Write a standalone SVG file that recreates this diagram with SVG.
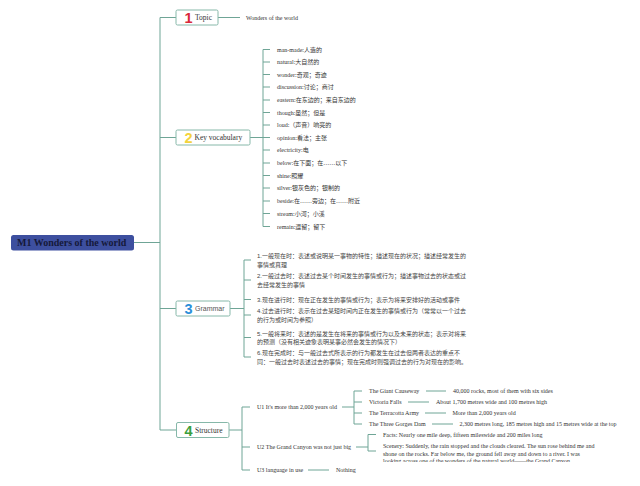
<svg xmlns="http://www.w3.org/2000/svg" width="640" height="486" viewBox="0 0 640 486">
<style>
.ln{fill:none;stroke:#6fa596;stroke-width:1}
.box{fill:#fff;stroke:#86b8a9;stroke-width:1}
.lbl{font-family:"Liberation Serif","Noto Sans CJK SC",serif;font-size:7.5px;fill:#333}
.num{font-family:"Liberation Sans",sans-serif;font-size:14.5px;font-weight:bold;text-anchor:middle}
.t{font-family:"Liberation Serif","Noto Sans CJK SC",serif;font-size:6px;fill:#333}
.g{font-family:"Liberation Sans","Noto Sans CJK SC",sans-serif;font-size:6px;fill:#444}
</style>
<defs>
<clipPath id="clipS"><rect x="378" y="436" width="262" height="26"/></clipPath>
</defs>
<rect width="640" height="486" fill="#fff"/>
<g id="connectors">
<path class="ln" d="M134,242.5H160M176,17.5H160V430H176.5M160,137.5H176M160,308.5H176"/>
<path class="ln" d="M218,17.5H240"/>
<path class="ln" d="M250,137.5H263M270,49.5H263V226.5H270M263,62H270M263,74.5H270M263,87H270M263,100H270M263,112.5H270M263,125H270M263,137.5H270M263,150H270M263,163H270M263,175.5H270M263,188H270M263,201H270M263,213.5H270"/>
<path class="ln" d="M230,308.5H244M251,260H244V357H251M244,280H251M244,299.5H251M244,315H251M244,337.5H251"/>
<path class="ln" d="M229,430H242M250,407H242V470H250M242,447H250"/>
<path class="ln" d="M342,407H354M362,391H354V424H362M354,402H362M354,413H362"/>
<path class="ln" d="M426,391H446M408,402H429M425,413H446M432,424H453"/>
<path class="ln" d="M356,447H368M376,434.5H368V451H376"/>
<path class="ln" d="M308,470H329"/>
</g>
<g id="root">
<rect x="11" y="235" width="123" height="15.5" rx="2.5" fill="#3d4f9f"/>
<text x="17" y="246.3" font-family="Liberation Serif,serif" font-size="10" font-weight="bold" fill="#15193a">M1 Wonders of the world</text>
</g>
<g id="topic">
<rect class="box" x="176" y="10" width="42" height="15" rx="1.5"/>
<text class="num" x="188.5" y="23" fill="#d9283a">1</text>
<text class="lbl" x="195" y="20">Topic</text>
</g>
<g id="topic-value"><text class="t" x="246" y="19.5">Wonders of the world</text></g>
<g id="vocab">
<rect class="box" x="176" y="130" width="74" height="15" rx="1.5"/>
<text class="num" x="188.5" y="143" fill="#f3d33c">2</text>
<text class="lbl" x="194.5" y="140">Key vocabulary</text>
</g>
<g id="vocab-items">
<text class="t" x="277" y="51.5">man-made:人造的</text>
<text class="t" x="277" y="64">natural:大自然的</text>
<text class="t" x="277" y="76.5">wonder:奇观；奇迹</text>
<text class="t" x="277" y="89">discussion:讨论；商讨</text>
<text class="t" x="277" y="102">eastern:在东边的；来自东边的</text>
<text class="t" x="277" y="114.5">though:虽然；但是</text>
<text class="t" x="277" y="127">loud:（声音）响亮的</text>
<text class="t" x="277" y="139.5">opinion:看法；主张</text>
<text class="t" x="277" y="152">electricity:电</text>
<text class="t" x="277" y="165">below:在下面；在……以下</text>
<text class="t" x="277" y="177.5">shine:照耀</text>
<text class="t" x="277" y="190">silver:银灰色的；银制的</text>
<text class="t" x="277" y="203">beside:在……旁边；在……附近</text>
<text class="t" x="277" y="215.5">stream:小河；小溪</text>
<text class="t" x="277" y="228.5">remain:逗留；留下</text>
</g>
<g id="grammar">
<rect class="box" x="176" y="301" width="54" height="15" rx="1.5"/>
<text class="num" x="188.5" y="314" fill="#2b8fd9">3</text>
<text x="195" y="311" font-family="Liberation Sans,sans-serif" font-size="7" fill="#555">Grammar</text>
</g>
<g id="grammar-items">
<text class="g" x="257" y="258.2">1.一般现在时：表述或说明某一事物的特性；描述现在的状况；描述经常发生的</text>
<text class="g" x="257" y="266.8">事情或真理</text>
<text class="g" x="257" y="278.2">2.一般过去时：表述过去某个时间发生的事情或行为；描述事物过去的状态或过</text>
<text class="g" x="257" y="286.6">去经常发生的事情</text>
<text class="g" x="257" y="301.5">3.现在进行时：现在正在发生的事情或行为；表示为将来安排好的活动或事件</text>
<text class="g" x="257" y="313">4.过去进行时：表示在过去某短时间内正在发生的事情或行为（常常以一个过去</text>
<text class="g" x="257" y="321.5">的行为或时间为参照）</text>
<text class="g" x="257" y="335.5">5.一般将来时：表述的是发生在将来的事情或行为以及未来的状态；表示对将来</text>
<text class="g" x="257" y="344">的预测（没有相关迹象表明某事必然会发生的情况下）</text>
<text class="g" x="257" y="355">6.现在完成时：与一般过去式所表示的行为都发生在过去但两者表达的重点不</text>
<text class="g" x="257" y="364">同：一般过去时表述过去的事情；现在完成时则强调过去的行为对现在的影响。</text>
</g>
<g id="structure">
<rect class="box" x="176.5" y="422.5" width="52.5" height="15" rx="1.5"/>
<text class="num" x="188.5" y="435.5" fill="#3a9e3c">4</text>
<text class="lbl" x="195" y="432.5">Structure</text>
</g>
<g id="u1">
<text class="t" x="257" y="409">U1 It's more than 2,000 years old</text>
<text class="t" x="369" y="393">The Giant Causeway</text>
<text class="t" x="369" y="404">Victoria Falls</text>
<text class="t" x="369" y="415">The Terracotta Army</text>
<text class="t" x="369" y="426">The Three Gorges Dam</text>
<text class="t" x="453" y="393">40,000 rocks, most of them with six sides</text>
<text class="t" x="436" y="404">About 1,700 metres wide and 100 metres high</text>
<text class="t" x="452.5" y="415">More than 2,000 years old</text>
<text class="t" x="459.5" y="426">2,300 metres long, 185 metres high and 15 metres wide at the top</text>
</g>
<g id="u2">
<text class="t" x="257" y="449">U2 The Grand Canyon was not just big</text>
<text class="t" x="383" y="437">Facts: Nearly one mile deep, fifteen mileswide and 200 miles long</text>
<g clip-path="url(#clipS)">
<text class="t" x="383" y="447.8">Scenery: Suddenly, the rain stopped and the clouds cleared. The sun rose behind me and</text>
<text class="t" x="383" y="455.8">shone on the rocks. Far below me, the ground fell away and down to a river. I was</text>
<text class="t" x="383" y="463">looking across one of the wonders of the natural world——the Grand Canyon</text>
</g>
</g>
<g id="u3">
<text class="t" x="257" y="472">U3 language in use</text>
<text class="t" x="336" y="472">Nothing</text>
</g>
</svg>
